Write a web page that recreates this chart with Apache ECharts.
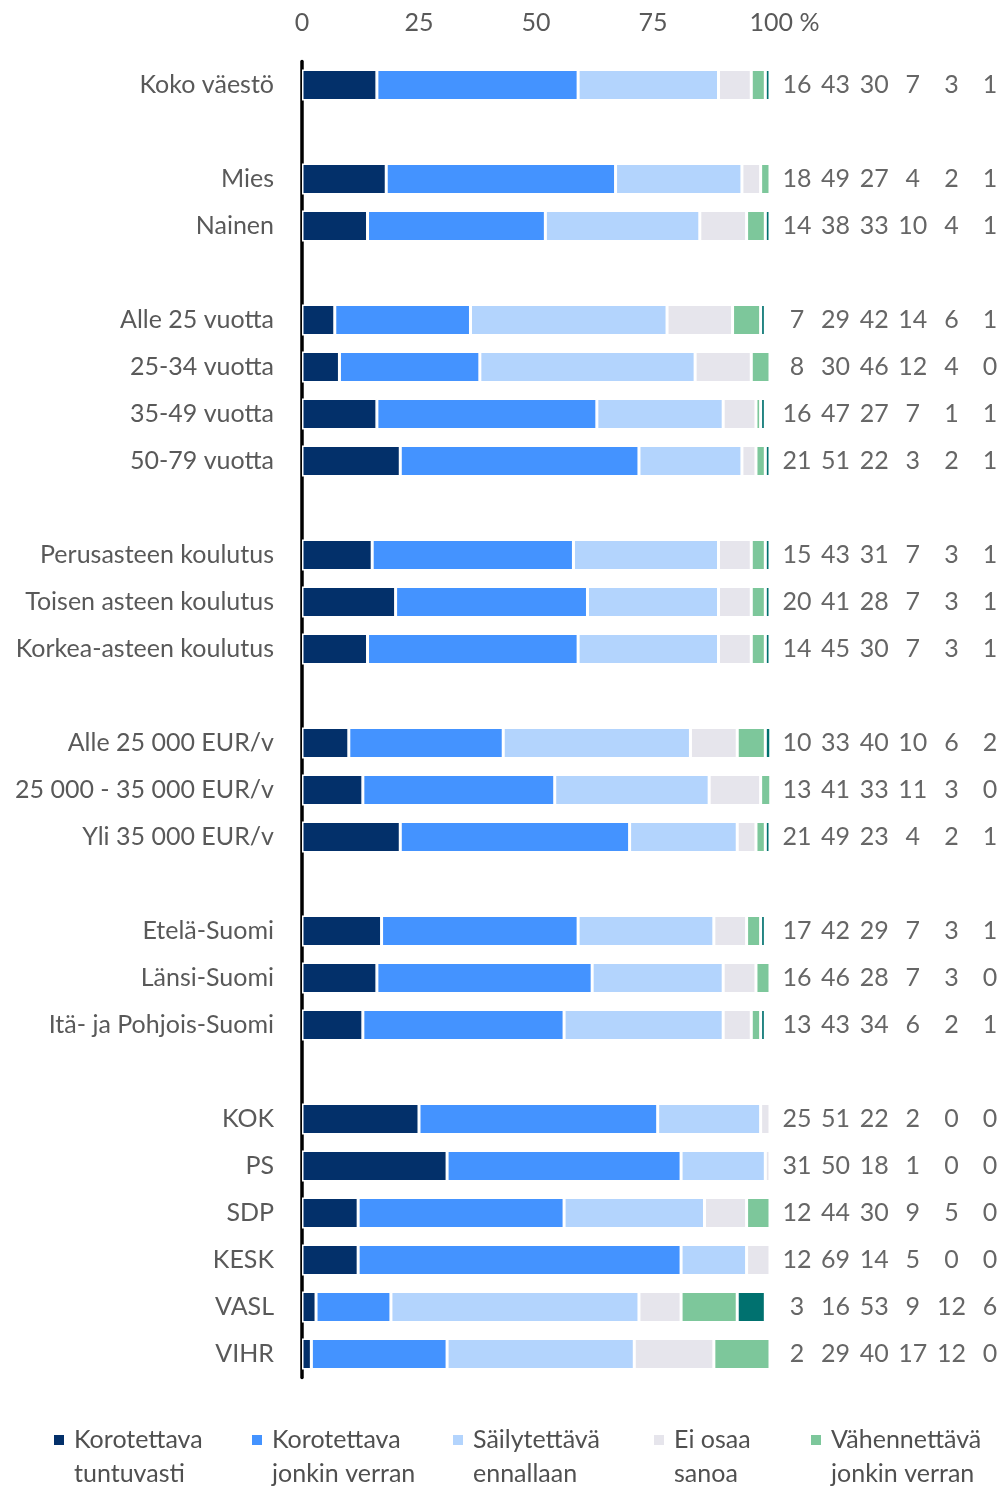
<!DOCTYPE html>
<html>
<head>
<meta charset="utf-8">
<title>Chart</title>
<script src="https://cdn.jsdelivr.net/npm/echarts@6/dist/echarts.min.js"></script>
<style>
  html, body { margin: 0; padding: 0; background: #fff; }
  #chart { width: 1002px; height: 1488px; }
</style>
</head>
<body>
<div id="chart"></div>
<script>
// rows; blank strings are the gaps between groups
var categories = [
  'Koko väestö', ' ',
  'Mies', 'Nainen', '  ',
  'Alle 25 vuotta', '25-34 vuotta', '35-49 vuotta', '50-79 vuotta', '   ',
  'Perusasteen koulutus', 'Toisen asteen koulutus', 'Korkea-asteen koulutus', '    ',
  'Alle 25 000 EUR/v', '25 000 - 35 000 EUR/v', 'Yli 35 000 EUR/v', '     ',
  'Etelä-Suomi', 'Länsi-Suomi', 'Itä- ja Pohjois-Suomi', '      ',
  'KOK', 'PS', 'SDP', 'KESK', 'VASL', 'VIHR'
];

var seriesNames = [
  'Korotettava tuntuvasti',
  'Korotettava jonkin verran',
  'Säilytettävä ennallaan',
  'Ei osaa sanoa',
  'Vähennettävä jonkin verran',
  'Vähennettävä tuntuvasti'
];
var legendLabels = [
  'Korotettava\ntuntuvasti',
  'Korotettava\njonkin verran',
  'Säilytettävä\nennallaan',
  'Ei osaa\nsanoa',
  'Vähennettävä\njonkin verran',
  'Vähennettävä\ntuntuvasti'
];
var colors = ['#03306a', '#4493ff', '#b3d4fd', '#e6e5ec', '#7dc79b', '#00716f'];

var korotettavaTuntuvasti = [16, null, 18, 14, null, 7, 8, 16, 21, null, 15, 20, 14, null, 10, 13, 21, null, 17, 16, 13, null, 25, 31, 12, 12, 3, 2];
var korotettavaJonkin     = [43, null, 49, 38, null, 29, 30, 47, 51, null, 43, 41, 45, null, 33, 41, 49, null, 42, 46, 43, null, 51, 50, 44, 69, 16, 29];
var sailytettava          = [30, null, 27, 33, null, 42, 46, 27, 22, null, 31, 28, 30, null, 40, 33, 23, null, 29, 28, 34, null, 22, 18, 30, 14, 53, 40];
var eiOsaa                = [7, null, 4, 10, null, 14, 12, 7, 3, null, 7, 7, 7, null, 10, 11, 4, null, 7, 7, 6, null, 2, 1, 9, 5, 9, 17];
var vahennettavaJonkin    = [3, null, 2, 4, null, 6, 4, 1, 2, null, 3, 3, 3, null, 6, 3, 2, null, 3, 3, 2, null, 0, 0, 5, 0, 12, 12];
var vahennettavaTuntuvasti = [1, null, 1, 1, null, 1, 0, 1, 1, null, 1, 1, 1, null, 2, 0, 1, null, 1, 0, 1, null, 0, 0, 0, 0, 6, 0];

var xTicks = [0, 25, 50, 75, 100];

var allValues = [korotettavaTuntuvasti, korotettavaJonkin, sailytettava, eiOsaa, vahennettavaJonkin, vahennettavaTuntuvasti];

var font = 'Lato';
var gridTop = 61.5, gridHeight = 1316;

var series = allValues.map(function (vals, i) {
  return {
    name: seriesNames[i],
    type: 'bar',
    stack: 'total',
    barWidth: 31,
    xAxisIndex: 0,
    yAxisIndex: 0,
    data: vals.map(function (v) { return v === null ? '-' : v; }),
    itemStyle: { color: colors[i], borderColor: '#fff', borderWidth: 1.5 },
    emphasis: { disabled: true }
  };
});

// the numbers printed to the right of the bars
var numberData = [];
allValues.forEach(function (vals, col) {
  vals.forEach(function (v, row) {
    if (v !== null) numberData.push([col, row, v]);
  });
});
series.push({
  type: 'scatter',
  xAxisIndex: 1,
  yAxisIndex: 1,
  symbolSize: 1,
  itemStyle: { color: 'rgba(0,0,0,0)' },
  data: numberData,
  label: {
    show: true,
    position: 'inside',
    formatter: function (p) { return p.value[2]; },
    fontFamily: font,
    fontSize: 25,
    color: '#404040'
  },
  emphasis: { disabled: true },
  silent: true
});

var legendLefts = [52, 250, 451, 652, 809];
var legends = legendLefts.map(function (left, i) {
  return {
    data: [seriesNames[i]],
    left: left,
    top: 1389,
    padding: 0,
    itemWidth: 12,
    itemHeight: 12,
    icon: 'rect',
    selectedMode: false,
    // leading empty line keeps the marker level with the first text line
    formatter: function (name) { return '\n' + legendLabels[seriesNames.indexOf(name)]; },
    textStyle: {
      fontFamily: font,
      fontSize: 25,
      lineHeight: 34,
      color: '#505050',
      padding: [0, 0, 0, 4]
    }
  };
});

var option = {
  animation: false,
  backgroundColor: '#fff',
  legend: legends,
  grid: [
    { left: 302, width: 468, top: gridTop, height: gridHeight },
    { left: 778, right: 0, top: gridTop, height: gridHeight }
  ],
  xAxis: [
    {
      type: 'value',
      gridIndex: 0,
      position: 'top',
      min: 0,
      max: 100,
      interval: 25,
      axisLine: { show: false },
      axisTick: { show: false },
      splitLine: { show: false },
      axisLabel: {
        margin: 26,
        fontFamily: font,
        fontSize: 25,
        color: '#595959',
        formatter: function (v) {
          return v === xTicks[xTicks.length - 1] ? '{last|' + v + ' %}' : String(v);
        },
        rich: {
          last: { fontFamily: font, fontSize: 25, color: '#595959', padding: [0, 0, 0, 29] }
        }
      }
    },
    {
      type: 'value',
      gridIndex: 1,
      min: -0.49,
      max: 5.31,
      show: false
    }
  ],
  yAxis: [
    {
      type: 'category',
      gridIndex: 0,
      inverse: true,
      data: categories,
      axisLine: { show: true, lineStyle: { color: '#000', width: 3.5 } },
      axisTick: { show: false },
      axisLabel: {
        margin: 28,
        fontFamily: font,
        fontSize: 25,
        color: '#595959'
      }
    },
    {
      type: 'category',
      gridIndex: 1,
      inverse: true,
      data: categories,
      show: false
    }
  ],
  series: series
};

var chart = echarts.init(document.getElementById('chart'));
chart.setOption(option);
</script>
</body>
</html>
